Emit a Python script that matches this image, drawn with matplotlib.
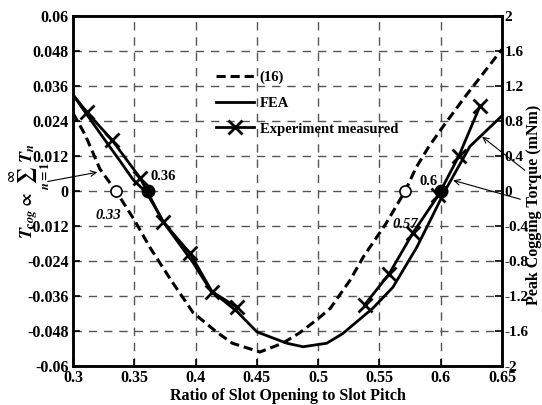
import numpy as np
import matplotlib
matplotlib.use("Agg")
import matplotlib.pyplot as plt

# eq. (16) curve, right axis units (mNm)
x_eq = [0.300, 0.310, 0.322, 0.335, 0.350, 0.363, 0.380, 0.398, 0.417, 0.430,
        0.4525, 0.471, 0.485, 0.499, 0.510, 0.526, 0.537, 0.555, 0.571, 0.580,
        0.590, 0.600, 0.620, 0.650]
y_eq = [0.89, 0.64, 0.25, 0.0, -0.33, -0.65, -1.02, -1.39, -1.61, -1.74,
        -1.84, -1.74, -1.62, -1.47, -1.34, -1.02, -0.75, -0.38, 0.0, 0.27,
        0.50, 0.70, 1.08, 1.62]

# FEA
x_fea = [0.300, 0.315, 0.3277, 0.338, 0.349, 0.360, 0.375, 0.398, 0.412, 0.434,
         0.450, 0.4745, 0.4876, 0.507, 0.520, 0.5446, 0.561, 0.5806, 0.6034,
         0.6238, 0.650]
y_fea = [1.10, 0.80, 0.55, 0.35, 0.13, -0.02, -0.38, -0.82, -1.13, -1.38,
         -1.61, -1.74, -1.78, -1.74, -1.63, -1.34, -1.10, -0.64, 0.0,
         0.51, 0.86]

# Experiment measured (gap between the two measured ranges)
x_exp = [0.300, 0.3114, 0.332, 0.3547, 0.3734, 0.3954, 0.4134, 0.4338, np.nan,
         0.538, 0.5578, 0.5773, 0.598, 0.6148, 0.632]
y_exp = [1.10, 0.90, 0.58, 0.15, -0.35, -0.71, -1.15, -1.33, np.nan,
         -1.30, -0.95, -0.48, -0.05, 0.40, 0.97]

# zero crossings
open_x = [0.335, 0.571]
filled_x = [0.3612, 0.6002]

plt.rcParams["font.family"] = ["Liberation Serif", "DejaVu Serif"]
plt.rcParams["font.weight"] = "bold"
plt.rcParams["mathtext.fontset"] = "stix"

fig = plt.figure(figsize=(5.42, 4.05), dpi=100)
ax = fig.add_axes([73 / 542, 1 - 366 / 405, 429 / 542, 350 / 405])
ax2 = ax.twinx()

ax.set_xlim(0.3, 0.65)
ax.set_ylim(-0.06, 0.06)
ax2.set_ylim(-2, 2)

xt = [0.3, 0.35, 0.4, 0.45, 0.5, 0.55, 0.6, 0.65]
ax.set_xticks(xt)
ax.set_xticklabels(["0.3", "0.35", "0.4", "0.45", "0.5", "0.55", "0.6", "0.65"])
yl = np.linspace(-0.06, 0.06, 11)
ax.set_yticks(yl)
ax.set_yticklabels(["-0.06", "-0.048", "-0.036", "-0.024", "-0.012", "0",
                    "0.012", "0.024", "0.036", "0.048", "0.06"])
yr = np.linspace(-2, 2, 11)
ax2.set_yticks(yr)
ax2.set_yticklabels(["-2", "-1.6", "-1.2", "-0.8", "-0.4", "0", "0.4", "0.8",
                     "1.2", "1.6", "2"])

for a in (ax, ax2):
    a.tick_params(direction="in", length=5, width=1.2, labelsize=11.5, pad=3)
    for s in a.spines.values():
        s.set_linewidth(1.8)
ax2.tick_params(labelsize=11, pad=2)
ax.grid(True, color="#555555", linestyle=(0, (6, 5)), linewidth=1.0)

ax2.plot(x_eq, y_eq, color="black", linestyle=(0, (3, 1.6)), linewidth=2.2,
         label="(16)")
ax2.plot(x_fea, y_fea, color="black", linewidth=2.0, label="FEA")
ax2.plot(x_exp, y_exp, color="black", linewidth=2.0, marker="x",
         markersize=10, markeredgewidth=2.0, markevery=list(range(1, 15)),
         label="Experiment measured")

ax2.plot(open_x, [0, 0], "o", markersize=8, markerfacecolor="white",
         markeredgecolor="black", markeredgewidth=1.2, zorder=5)
ax2.plot(filled_x, [0, 0], "o", markersize=9, color="black", zorder=5)

ax2.text(0.363, 0.12, "0.36", fontsize=10.5, fontweight="bold")
ax2.text(0.318, -0.32, "0.33", fontsize=10.5, fontweight="bold", style="italic")
ax2.text(0.561, -0.42, "0.57", fontsize=10.5, fontweight="bold", style="italic")
ax2.text(0.583, 0.07, "0.6", fontsize=10.5, fontweight="bold")

arrow = dict(arrowstyle="->", color="black", linewidth=0.8)
ax2.annotate("", xy=(0.322, 0.22), xytext=(45 / 542, 1 - 182 / 405),
             textcoords="figure fraction", arrowprops=arrow,
             annotation_clip=False)
ax2.annotate("", xy=(0.632, 0.64), xytext=(527 / 542, 1 - 172 / 405),
             textcoords="figure fraction", arrowprops=arrow,
             annotation_clip=False)
ax2.annotate("", xy=(0.608, 0.13), xytext=(523 / 542, 1 - 200 / 405),
             textcoords="figure fraction", arrowprops=arrow,
             annotation_clip=False)

ax.set_xlabel("Ratio of Slot Opening to Slot Pitch", fontsize=11.5,
              fontweight="bold", labelpad=1)
ax.set_ylabel(r"$T_{cog}\propto\sum_{n=1}^{\infty}T_n$", fontsize=13)
ax.yaxis.set_label_coords(-0.047, 0.5)
ax2.set_ylabel("Peak Cogging Torque (mNm)", fontsize=11.5, fontweight="bold")
ax2.yaxis.set_label_coords(1.056, 0.46)

leg = ax2.legend(loc="upper left", bbox_to_anchor=(0.32, 0.86), frameon=False,
                 fontsize=10.5, handlelength=2.6, labelspacing=0.85,
                 handletextpad=0.4, borderaxespad=0)
for t in leg.get_texts():
    t.set_fontweight("bold")

fig.savefig("out.png", dpi=100)
